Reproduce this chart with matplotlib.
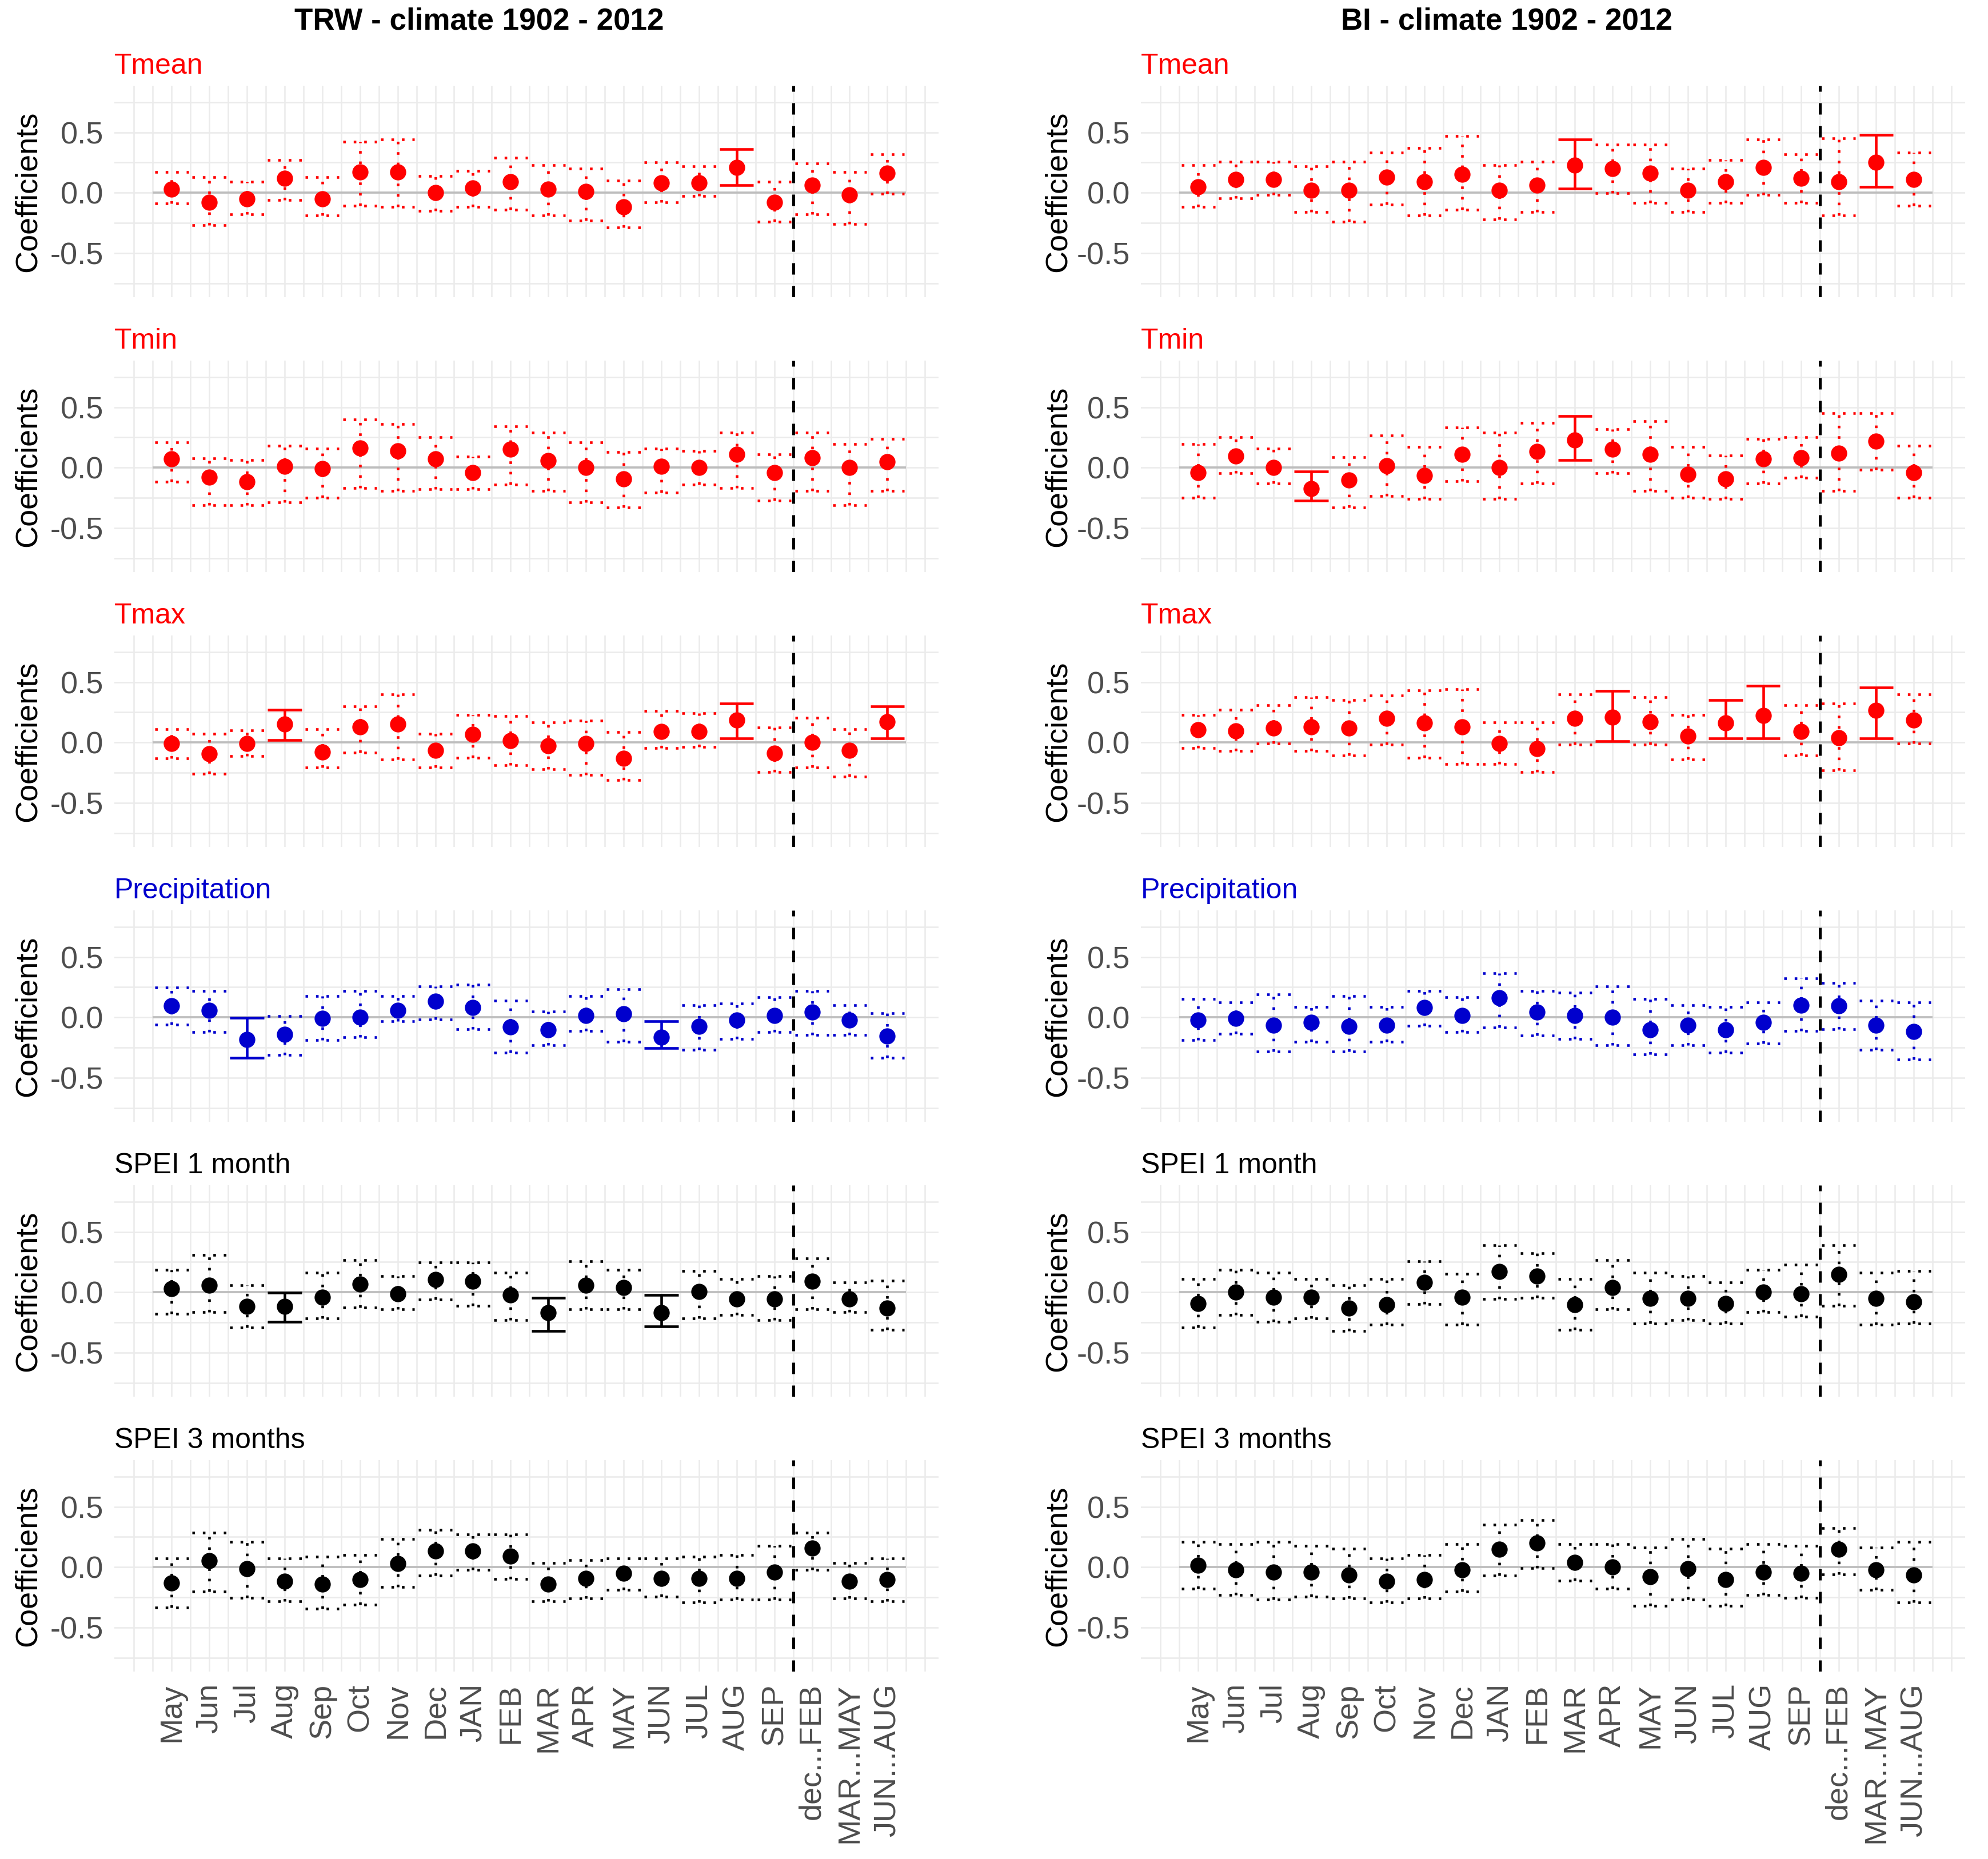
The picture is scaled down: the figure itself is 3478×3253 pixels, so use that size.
import matplotlib
matplotlib.use("Agg")
import matplotlib.pyplot as plt
import numpy as np

plt.rcParams["font.family"] = ["Liberation Sans", "DejaVu Sans"]

MONTHS = ["May", "Jun", "Jul", "Aug", "Sep", "Oct", "Nov", "Dec",
          "JAN", "FEB", "MAR", "APR", "MAY", "JUN", "JUL", "AUG", "SEP",
          "dec...FEB", "MAR...MAY", "JUN...AUG"]

COL_TITLES = ["TRW - climate 1902 - 2012", "BI - climate 1902 - 2012"]
ROW_LABELS = ["Tmean", "Tmin", "Tmax", "Precipitation",
              "SPEI 1 month", "SPEI 3 months"]

# ---- TRW column ----
TRW_TMEAN_EST = [0.03, -0.08, -0.05, 0.12, -0.05, 0.17, 0.17, 0.00, 0.04, 0.09,
                 0.03, 0.01, -0.12, 0.08, 0.08, 0.21, -0.08, 0.06, -0.02, 0.16]
TRW_TMEAN_LO = [-0.09, -0.27, -0.18, -0.06, -0.19, -0.11, -0.12, -0.15, -0.12, -0.14,
                -0.19, -0.23, -0.29, -0.08, -0.03, 0.06, -0.24, -0.18, -0.26, -0.01]
TRW_TMEAN_HI = [0.17, 0.13, 0.09, 0.27, 0.13, 0.42, 0.44, 0.14, 0.18, 0.29,
                0.23, 0.20, 0.10, 0.25, 0.22, 0.36, 0.09, 0.24, 0.17, 0.32]

TRW_TMIN_EST = [0.07, -0.08, -0.12, 0.01, -0.01, 0.16, 0.14, 0.07, -0.04, 0.15,
                0.055, 0.0, -0.095, 0.01, 0.0, 0.11, -0.04, 0.08, 0.0, 0.05]
TRW_TMIN_LO = [-0.12, -0.31, -0.31, -0.29, -0.25, -0.17, -0.195, -0.18, -0.18, -0.14,
               -0.195, -0.29, -0.33, -0.21, -0.14, -0.17, -0.275, -0.195, -0.31, -0.195]
TRW_TMIN_HI = [0.21, 0.075, 0.06, 0.18, 0.155, 0.40, 0.36, 0.25, 0.09, 0.34,
               0.29, 0.21, 0.13, 0.155, 0.14, 0.29, 0.11, 0.29, 0.195, 0.235]

TRW_TMAX_EST = [-0.01, -0.095, -0.01, 0.15, -0.08, 0.13, 0.15, -0.065, 0.065, 0.015,
                -0.027, -0.01, -0.13, 0.09, 0.09, 0.185, -0.09, 0.0, -0.067, 0.17]
TRW_TMAX_LO = [-0.13, -0.26, -0.115, 0.02, -0.21, -0.085, -0.14, -0.21, -0.127, -0.19,
               -0.22, -0.27, -0.31, -0.046, -0.035, 0.033, -0.245, -0.21, -0.285, 0.033]
TRW_TMAX_HI = [0.11, 0.073, 0.10, 0.27, 0.11, 0.30, 0.40, 0.073, 0.23, 0.22,
               0.167, 0.18, 0.086, 0.26, 0.244, 0.323, 0.126, 0.204, 0.11, 0.30]

TRW_PREC_EST = [0.096, 0.056, -0.183, -0.143, -0.011, 0.0, 0.056, 0.135, 0.08, -0.08,
                -0.104, 0.016, 0.029, -0.167, -0.076, -0.024, 0.016, 0.043, -0.024, -0.154]
TRW_PREC_LO = [-0.06, -0.124, -0.334, -0.31, -0.19, -0.164, -0.032, -0.019, -0.097, -0.295,
               -0.23, -0.111, -0.202, -0.255, -0.27, -0.178, -0.124, -0.148, -0.148, -0.334]
TRW_PREC_HI = [0.247, 0.218, -0.005, 0.008, 0.178, 0.218, 0.178, 0.258, 0.27, 0.139,
               0.048, 0.178, 0.231, -0.032, 0.099, 0.115, 0.167, 0.218, 0.099, 0.035]

TRW_SPEI1_EST = [0.027, 0.056, -0.116, -0.116, -0.04, 0.067, -0.013, 0.107, 0.092, -0.024,
                 -0.172, 0.056, 0.04, -0.172, 0.003, -0.056, -0.056, 0.092, -0.056, -0.132]
TRW_SPEI1_LO = [-0.18, -0.164, -0.295, -0.244, -0.218, -0.127, -0.14, -0.059, -0.111, -0.231,
                -0.323, -0.14, -0.14, -0.282, -0.218, -0.191, -0.231, -0.14, -0.164, -0.31]
TRW_SPEI1_HI = [0.186, 0.31, 0.059, -0.005, 0.162, 0.266, 0.135, 0.245, 0.245, 0.162,
                -0.048, 0.255, 0.186, -0.021, 0.175, 0.111, 0.135, 0.282, 0.083, 0.096]

TRW_SPEI3_EST = [-0.13, 0.053, -0.013, -0.116, -0.143, -0.104, 0.027, 0.132, 0.132, 0.092,
                 -0.143, -0.092, -0.053, -0.092, -0.092, -0.092, -0.04, 0.159, -0.116, -0.104]
TRW_SPEI3_LO = [-0.334, -0.204, -0.255, -0.282, -0.347, -0.31, -0.164, -0.072, -0.021, -0.1,
                -0.282, -0.258, -0.191, -0.244, -0.295, -0.27, -0.268, -0.021, -0.258, -0.282]
TRW_SPEI3_HI = [0.072, 0.287, 0.207, 0.072, 0.084, 0.1, 0.231, 0.31, 0.27, 0.27,
                0.032, 0.059, 0.072, 0.072, 0.084, 0.099, 0.178, 0.287, 0.032, 0.072]

# ---- BI column ----
BI_TMEAN_EST = [0.05, 0.11, 0.11, 0.02, 0.02, 0.13, 0.09, 0.15, 0.02, 0.06,
                0.23, 0.20, 0.16, 0.02, 0.09, 0.21, 0.12, 0.09, 0.25, 0.11]
BI_TMEAN_LO = [-0.12, -0.045, -0.02, -0.16, -0.24, -0.10, -0.19, -0.14, -0.22, -0.16,
               0.035, -0.005, -0.085, -0.16, -0.085, -0.02, -0.085, -0.19, 0.05, -0.11]
BI_TMEAN_HI = [0.23, 0.255, 0.255, 0.22, 0.255, 0.33, 0.37, 0.47, 0.23, 0.255,
               0.44, 0.40, 0.40, 0.20, 0.27, 0.44, 0.32, 0.45, 0.48, 0.33]

BI_TMIN_EST = [-0.04, 0.095, 0.0, -0.175, -0.105, 0.015, -0.065, 0.11, 0.0, 0.135,
               0.23, 0.15, 0.11, -0.055, -0.095, 0.07, 0.08, 0.12, 0.22, -0.04]
BI_TMIN_LO = [-0.25, -0.047, -0.13, -0.275, -0.33, -0.235, -0.26, -0.115, -0.26, -0.13,
              0.06, -0.047, -0.195, -0.25, -0.26, -0.13, -0.085, -0.195, -0.018, -0.25]
BI_TMIN_HI = [0.195, 0.25, 0.155, -0.034, 0.088, 0.265, 0.17, 0.33, 0.29, 0.37,
              0.427, 0.32, 0.385, 0.17, 0.10, 0.235, 0.25, 0.45, 0.45, 0.18]

BI_TMAX_EST = [0.105, 0.096, 0.12, 0.13, 0.12, 0.20, 0.16, 0.13, -0.01, -0.05,
               0.20, 0.21, 0.172, 0.053, 0.16, 0.225, 0.092, 0.04, 0.264, 0.185]
BI_TMAX_LO = [-0.046, -0.072, -0.008, -0.072, -0.11, -0.02, -0.127, -0.18, -0.18, -0.245,
              -0.02, 0.01, -0.02, -0.14, 0.033, 0.033, -0.11, -0.23, 0.033, -0.008]
BI_TMAX_HI = [0.23, 0.27, 0.31, 0.374, 0.35, 0.39, 0.43, 0.44, 0.164, 0.164,
              0.40, 0.427, 0.375, 0.23, 0.35, 0.467, 0.31, 0.323, 0.454, 0.40]

BI_PREC_EST = [-0.024, -0.011, -0.064, -0.04, -0.076, -0.064, 0.08, 0.016, 0.162, 0.043,
               0.016, 0.0, -0.104, -0.064, -0.104, -0.04, 0.099, 0.096, -0.064, -0.116]
BI_PREC_LO = [-0.19, -0.139, -0.283, -0.202, -0.283, -0.202, -0.072, -0.124, -0.084, -0.151,
              -0.178, -0.231, -0.307, -0.231, -0.295, -0.215, -0.111, -0.099, -0.27, -0.35]
BI_PREC_HI = [0.151, 0.126, 0.19, 0.088, 0.178, 0.088, 0.218, 0.166, 0.363, 0.218,
              0.204, 0.258, 0.151, 0.099, 0.084, 0.126, 0.323, 0.283, 0.139, 0.126]

BI_SPEI1_EST = [-0.092, 0.0, -0.04, -0.04, -0.132, -0.104, 0.08, -0.04, 0.172, 0.132,
                -0.104, 0.04, -0.053, -0.053, -0.092, 0.0, -0.013, 0.146, -0.053, -0.08]
BI_SPEI1_LO = [-0.295, -0.191, -0.244, -0.218, -0.323, -0.27, -0.1, -0.27, -0.056, -0.048,
               -0.31, -0.14, -0.258, -0.231, -0.258, -0.167, -0.204, -0.111, -0.27, -0.258]
BI_SPEI1_HI = [0.111, 0.186, 0.162, 0.111, 0.059, 0.111, 0.255, 0.151, 0.387, 0.322,
               0.111, 0.268, 0.162, 0.135, 0.083, 0.186, 0.226, 0.387, 0.162, 0.175]

BI_SPEI3_EST = [0.016, -0.024, -0.04, -0.04, -0.064, -0.116, -0.104, -0.024, 0.146, 0.199,
                0.04, 0.0, -0.08, -0.013, -0.104, -0.04, -0.053, 0.146, -0.024, -0.064]
BI_SPEI3_LO = [-0.18, -0.231, -0.27, -0.244, -0.258, -0.295, -0.258, -0.204, -0.072, -0.008,
               -0.111, -0.18, -0.323, -0.27, -0.323, -0.231, -0.255, -0.059, -0.191, -0.295]
BI_SPEI3_HI = [0.207, 0.191, 0.207, 0.178, 0.151, 0.072, 0.099, 0.191, 0.35, 0.39,
               0.191, 0.191, 0.162, 0.231, 0.151, 0.191, 0.178, 0.322, 0.162, 0.207]

RED = "#FF0000"
BLUE = "#0000CD"
BLACK = "#000000"
ROW_COLORS = [RED, RED, RED, BLUE, BLACK, BLACK]

PANELS = [
    [(TRW_TMEAN_EST, TRW_TMEAN_LO, TRW_TMEAN_HI),
     (TRW_TMIN_EST, TRW_TMIN_LO, TRW_TMIN_HI),
     (TRW_TMAX_EST, TRW_TMAX_LO, TRW_TMAX_HI),
     (TRW_PREC_EST, TRW_PREC_LO, TRW_PREC_HI),
     (TRW_SPEI1_EST, TRW_SPEI1_LO, TRW_SPEI1_HI),
     (TRW_SPEI3_EST, TRW_SPEI3_LO, TRW_SPEI3_HI)],
    [(BI_TMEAN_EST, BI_TMEAN_LO, BI_TMEAN_HI),
     (BI_TMIN_EST, BI_TMIN_LO, BI_TMIN_HI),
     (BI_TMAX_EST, BI_TMAX_LO, BI_TMAX_HI),
     (BI_PREC_EST, BI_PREC_LO, BI_PREC_HI),
     (BI_SPEI1_EST, BI_SPEI1_LO, BI_SPEI1_HI),
     (BI_SPEI3_EST, BI_SPEI3_LO, BI_SPEI3_HI)],
]

# layout in pixels of the output image
FIG_W, FIG_H, DPI = 3479, 3253, 300
COL_LEFT = [200, 1996]
COL_YLABEL_X = [49, 1851]
COL_TITLE_X = [838, 2636]
PANEL_W, PANEL_H = 1442, 370
ROW_TOP0, ROW_STEP = 150, 481
X_LIM = (-0.52, 21.36)
Y_LIM = (-0.866, 0.886)
GRID = "#EBEBEB"
TICK_COLOR = "#4D4D4D"


def draw_panel(ax, est, lo, hi, color, label, show_x, ylabel_x):
    x = np.arange(1, len(MONTHS) + 1)
    est, lo, hi = np.asarray(est), np.asarray(lo), np.asarray(hi)
    sig = (lo > 0) | (hi < 0)

    ax.set_xlim(*X_LIM)
    ax.set_ylim(*Y_LIM)
    ax.set_xticks(x)
    ax.set_xticks(np.arange(0, 21.01, 0.5), minor=True)
    ax.set_yticks([-0.5, 0.0, 0.5])
    ax.set_yticks([-0.75, -0.25, 0.25, 0.75], minor=True)
    ax.set_yticklabels(["-0.5", "0.0", "0.5"])
    ax.grid(which="both", color=GRID, lw=0.6)
    ax.set_axisbelow(True)
    for s in ax.spines.values():
        s.set_visible(False)
    ax.tick_params(which="both", length=0, labelsize=13, labelcolor=TICK_COLOR)
    ax.tick_params(axis="y", pad=4.5)
    if show_x:
        ax.set_xticklabels(MONTHS, rotation=90, va="top", ha="center")
        ax.tick_params(axis="x", pad=5)
    else:
        ax.tick_params(axis="x", labelbottom=False)

    ax.hlines(0, 0.5, 20.5, color="#BEBEBE", lw=0.9, zorder=1.5)
    ax.axvline(17.5, color=BLACK, lw=1.2, ls=(0, (4, 4)), zorder=2)

    w = 0.45
    for mask, ls in ((sig, "-"), (~sig, (0, (1, 3)))):
        xs = x[mask]
        kw = dict(color=color, lw=1.1, linestyles=[ls], zorder=3)
        ax.vlines(xs, lo[mask], hi[mask], **kw)
        ax.hlines(lo[mask], xs - w, xs + w, **kw)
        ax.hlines(hi[mask], xs - w, xs + w, **kw)

    ax.plot(x, est, "o", ms=5.8, color=color, mec=color, zorder=4)

    ax.text(0, 1 + 34 / PANEL_H, label, transform=ax.transAxes,
            ha="left", va="center", fontsize=12, color=color)
    ax.text(ylabel_x, 0.5, "Coefficients", transform=ax.transAxes,
            ha="center", va="center", rotation=90, fontsize=13, color=BLACK)


fig = plt.figure(figsize=(FIG_W / DPI, FIG_H / DPI), dpi=DPI)

for c, col in enumerate(PANELS):
    ylabel_x = (COL_YLABEL_X[c] - COL_LEFT[c]) / PANEL_W
    for r, (est, lo, hi) in enumerate(col):
        top = ROW_TOP0 + r * ROW_STEP
        rect = [COL_LEFT[c] / FIG_W, 1 - (top + PANEL_H) / FIG_H,
                PANEL_W / FIG_W, PANEL_H / FIG_H]
        ax = fig.add_axes(rect)
        draw_panel(ax, est, lo, hi, ROW_COLORS[r], ROW_LABELS[r],
                   show_x=(r == len(col) - 1), ylabel_x=ylabel_x)
    fig.text(COL_TITLE_X[c] / FIG_W, 1 - 38 / FIG_H, COL_TITLES[c],
             ha="center", va="center", fontsize=12.7, fontweight="bold")

fig.savefig("out.png", dpi=DPI)
plt.close(fig)
